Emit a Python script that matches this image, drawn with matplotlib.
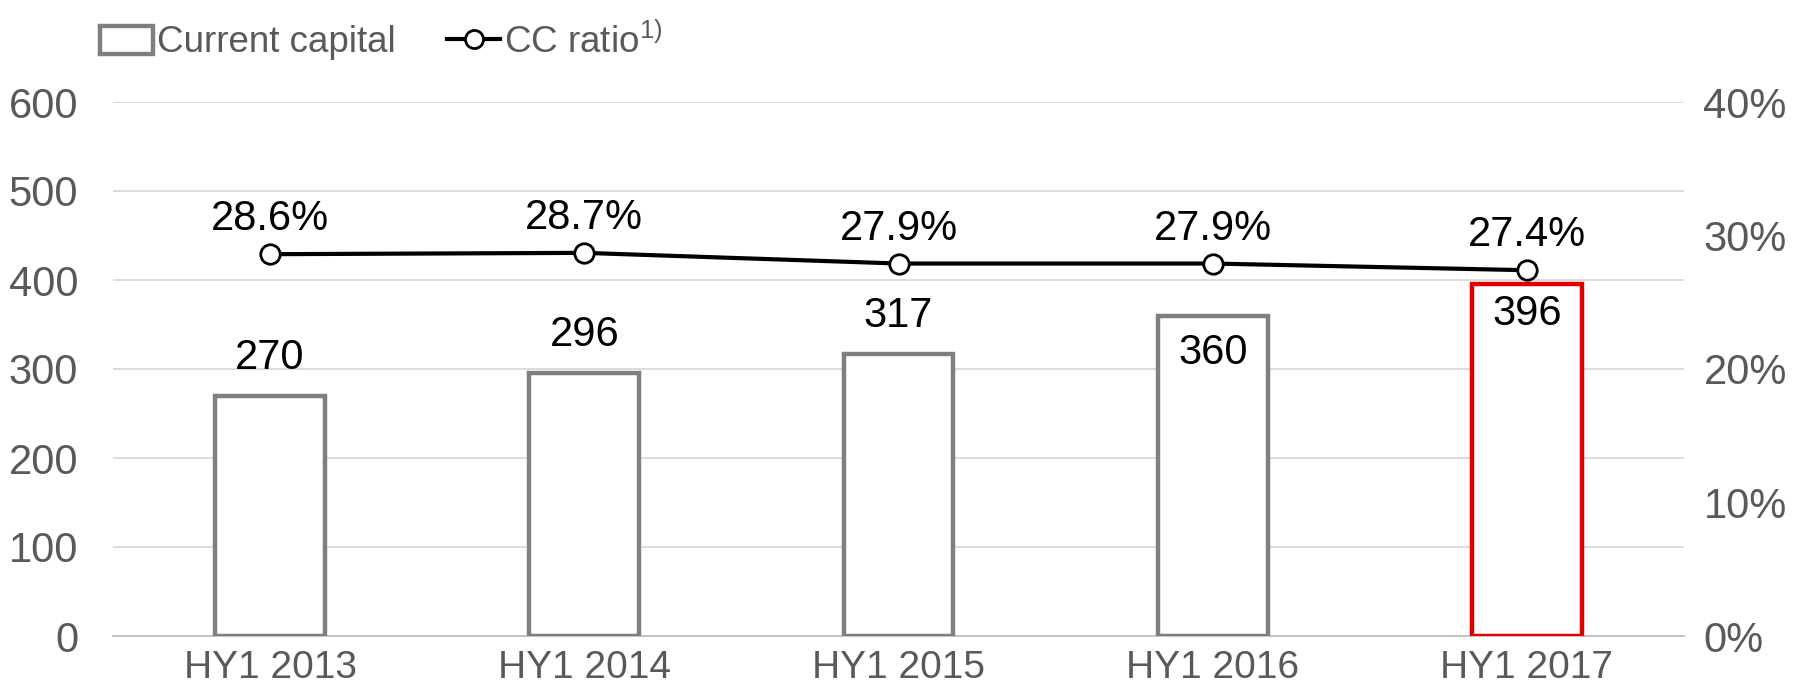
import matplotlib
matplotlib.use("Agg")
import matplotlib.pyplot as plt
from matplotlib.patches import Patch
from matplotlib.lines import Line2D

plt.rcParams["font.family"] = ["Liberation Sans", "DejaVu Sans"]
plt.rcParams["mathtext.fontset"] = "custom"
plt.rcParams["mathtext.rm"] = "Liberation Sans"

categories = ["HY1 2013", "HY1 2014", "HY1 2015", "HY1 2016", "HY1 2017"]
capital = [270, 296, 317, 360, 396]
cc_ratio = [28.6, 28.7, 27.9, 27.9, 27.4]
cap_ticks = [0, 100, 200, 300, 400, 500, 600]
ratio_ticks = [0, 10, 20, 30, 40]

GRAY = "#7f7f7f"
RED = "#e00000"
TXT = "#595959"

fig = plt.figure(figsize=(18, 6.99), dpi=100)
ax = fig.add_axes([113 / 1800, 63 / 699, 1571 / 1800, 534 / 699])
ax2 = ax.twinx()

x = list(range(len(categories)))
edges = [GRAY] * (len(categories) - 1) + [RED]
ax.bar(x, capital, width=0.35, facecolor="white", edgecolor=edges,
       linewidth=3.2, zorder=3)
ax.set_xlim(-0.5, len(categories) - 0.5)
ax.set_ylim(0, 600)
ax.set_yticks(cap_ticks)
ax.grid(axis="y", color="#d9d9d9", linewidth=1.3, zorder=0)
ax.set_axisbelow(True)
ax.set_xticks(x)
ax.set_xticklabels(categories)

# value labels: first three sit above the bar, last two inside it
label_offsets = [27, 27, 27, -27, -22]
for xi, v, off in zip(x, capital, label_offsets):
    ax.annotate(f"{v}", (xi, v), xytext=(0, off), textcoords="offset points",
                ha="center", va="center", fontsize=30, color="black", zorder=6)

ax2.plot(x, cc_ratio, color="black", linewidth=3, marker="o", markersize=14,
         markerfacecolor="white", markeredgecolor="black", markeredgewidth=2,
         zorder=5)
ax2.set_ylim(0, 40)
ax2.set_yticks(ratio_ticks)
ax2.set_yticklabels([f"{t}%" for t in ratio_ticks])
for xi, v in zip(x, cc_ratio):
    ax2.annotate(f"{v:.1f}%", (xi, v), xytext=(0, 25), textcoords="offset points",
                 ha="center", va="center", fontsize=30, color="black")

for a in (ax, ax2):
    for s in a.spines.values():
        s.set_visible(False)
    a.tick_params(length=0, labelsize=30, labelcolor=TXT)
ax.tick_params(axis="y", pad=25)
ax2.tick_params(axis="y", pad=14)
ax.tick_params(axis="x", pad=10, labelsize=28)
ax.spines["bottom"].set_visible(True)
ax.spines["bottom"].set_color("#bfbfbf")
ax.spines["bottom"].set_linewidth(1.3)

handles = [
    Patch(facecolor="white", edgecolor=GRAY, linewidth=3.2, label="Current capital"),
    Line2D([0], [0], color="black", linewidth=3, marker="o", markersize=13,
           markerfacecolor="white", markeredgewidth=2,
           label=r"CC ratio$^{\mathrm{1)}}$"),
]
leg = fig.legend(handles=handles, loc="upper left", bbox_to_anchor=(0.037, 1.015),
                 ncol=2, frameon=False, fontsize=26.5, handlelength=1.45,
                 handletextpad=0.1, columnspacing=1.4, handleheight=0.8)
for t in leg.get_texts():
    t.set_color(TXT)

fig.savefig("out.png", dpi=100)
